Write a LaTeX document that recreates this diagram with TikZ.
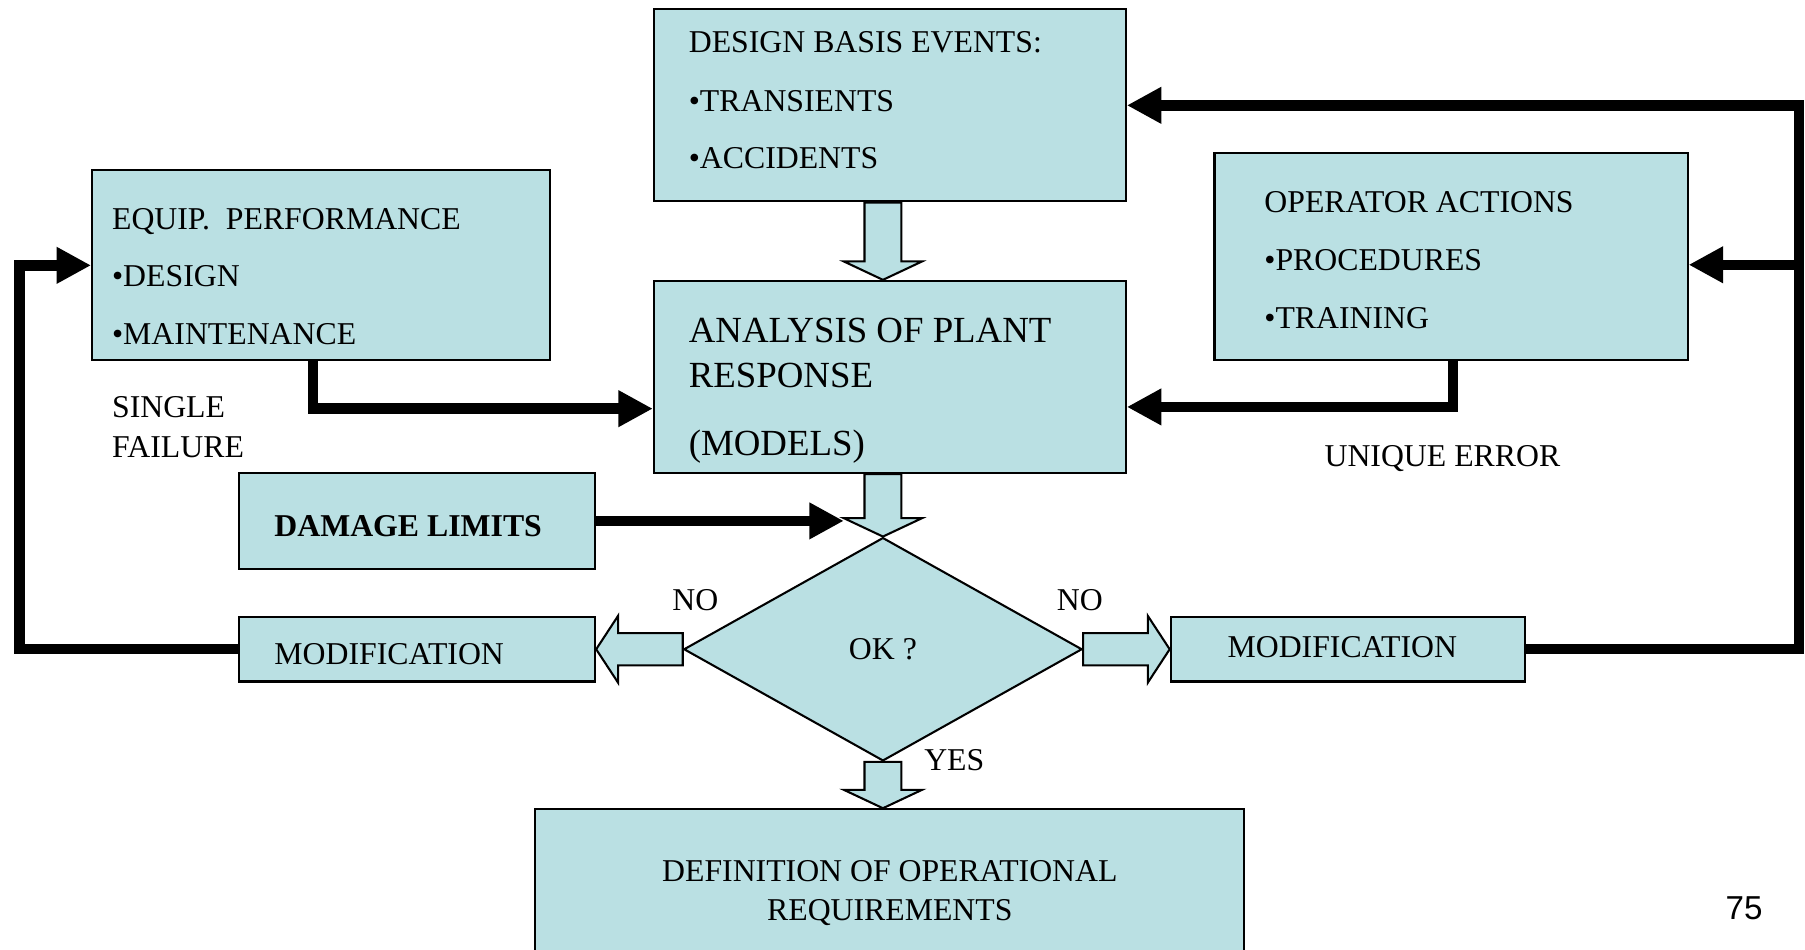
\documentclass[tikz,border=0pt]{standalone}
\usepackage{fontspec}
\setmainfont{Liberation Serif}
\newfontfamily\numfont{Liberation Sans}
\usetikzlibrary{shapes.geometric,arrows.meta,calc}
\definecolor{boxfill}{RGB}{186,224,227}
\newcommand\vblock[2]{%
  \draw[barrow] let \p1=(#1), \p2=(#2) in
  (\x2-8pt,\y1) -- (\x2-8pt,\y2+8pt) -- (\x2-17pt,\y2+8pt) -- (\x2,\y2)
  -- (\x2+17pt,\y2+8pt) -- (\x2+8pt,\y2+8pt) -- (\x2+8pt,\y1) -- cycle;}
\newcommand\hblock[2]{%
  \draw[barrow] let \p1=(#1), \p2=(#2), \n1={ifthenelse(\x2>\x1,1,-1)} in
  (\x1,\y1+7pt) -- (\x2-\n1*9.5pt,\y1+7pt) -- (\x2-\n1*9.5pt,\y1+14.5pt) -- (\x2,\y2)
  -- (\x2-\n1*9.5pt,\y1-14.5pt) -- (\x2-\n1*9.5pt,\y1-7pt) -- (\x1,\y1-7pt) -- cycle;}
\begin{document}
\begin{tikzpicture}[x=0.5pt,y=-0.5pt,
  box/.style={draw=black, line width=0.9pt, fill=boxfill, inner sep=0pt},
  txt/.style={inner sep=0pt, font=\fontsize{13.8}{16}\selectfont},
  bigtxt/.style={inner sep=0pt, font=\fontsize{16}{19}\selectfont},
  flow/.style={line width=4.5pt, -{Triangle[length=15pt,width=15pt]}, line join=miter},
  barrow/.style={draw=black, line width=0.9pt, fill=boxfill, line join=miter}]
\useasboundingbox (0,0) rectangle (1568,825);
\clip (0,0) rectangle (1568,825);
\fill[white] (0,0) rectangle (1568,825);

% boxes
\node[box, minimum width=205pt, minimum height=83.5pt] (dbe) at (773,91.5) {};
\node[box, minimum width=205pt, minimum height=83.5pt] (ana) at (773,327.5) {};
\node[box, minimum width=199pt, minimum height=82.5pt] (equip) at (279,230.5) {};
\node[box, minimum width=205.5pt, minimum height=90pt] (oper) at (1260.5,223) {};
\node[box, minimum width=154.5pt, minimum height=41.5pt] (dmg) at (362.5,452.5) {};
\node[box, minimum width=154.5pt, minimum height=28pt] (modL) at (362.5,564) {};
\node[box, minimum width=154pt, minimum height=28pt] (modR) at (1171,564) {};
\node[box, diamond, minimum width=173pt, minimum height=97pt,
      font=\fontsize{13.8}{16}\selectfont] (dia) at (767,564) {OK ?};
\node[box, minimum width=308pt, minimum height=73.5pt] (defn) at (773,776.5) {};

% texts
\node[txt, anchor=base west] (dbe1) at (598,46) {DESIGN BASIS EVENTS:};
\node[txt, anchor=base west] (dbe2) at (598,97) {•TRANSIENTS};
\node[txt, anchor=base west] (dbe3) at (598,146) {•ACCIDENTS};
\node[txt, anchor=base west] (eq1) at (97,199) {EQUIP.\ \ PERFORMANCE};
\node[txt, anchor=base west] (eq2) at (97,249) {•DESIGN};
\node[txt, anchor=base west] (eq3) at (97,299) {•MAINTENANCE};
\node[txt, anchor=base west] (op1) at (1098,185) {OPERATOR ACTIONS};
\node[txt, anchor=base west] (op2) at (1098,235) {•PROCEDURES};
\node[txt, anchor=base west] (op3) at (1098,285) {•TRAINING};
\node[bigtxt, anchor=base west] (an1) at (598,297.5) {ANALYSIS OF PLANT};
\node[bigtxt, anchor=base west] (an2) at (598,336.5) {RESPONSE};
\node[bigtxt, anchor=base west] (an3) at (598,395.5) {(MODELS)};
\node[txt, anchor=base west] (sf1) at (97,363) {SINGLE};
\node[txt, anchor=base west] (sf2) at (97,397) {FAILURE};
\node[txt, anchor=base] (ue) at (1253,405) {UNIQUE ERROR};
\node[txt, anchor=base west, font=\fontsize{13.8}{16}\selectfont\bfseries] (dl) at (238,466) {DAMAGE LIMITS};
\node[txt, anchor=base west] (ml) at (238,577) {MODIFICATION};
\node[txt, anchor=base west] (mr) at (1066,571) {MODIFICATION};
\node[txt, anchor=base] (noL) at (604,530) {NO};
\node[txt, anchor=base] (noR) at (938,530) {NO};
\node[txt, anchor=base] (yes) at (829,669) {YES};
\node[txt, anchor=base] (df1) at (773,766) {DEFINITION OF OPERATIONAL};
\node[txt, anchor=base] (df2) at (773,800) {REQUIREMENTS};
\node[inner sep=0pt, anchor=base, font=\numfont\fontsize{14.4}{17}\selectfont] (pg) at (1515,799) {75};

% block arrows
\vblock{dbe.south -| dia.north}{ana.north -| dia.north}
\vblock{ana.south -| dia.north}{dia.north}
\vblock{dia.south}{defn.north -| dia.south}
\hblock{dia.west}{modL.east}
\hblock{dia.east}{modR.west}

% thick connectors
\coordinate (dhead) at ($(dia.north)+(-34,-16)$);
\coordinate (xl) at (17,0);
\coordinate (xr) at (1563,0);
\draw[flow] ($(equip.south west)+(193,0)$) |- ($(ana.west)+(0,27.5)$);
\draw[flow] ($(oper.south)+(1.5,0)$) |- ($(ana.east)+(0,26)$);
\draw[flow] (dmg.east) -- (dmg.east -| dhead);
\draw[flow] (modL.west) -- (modL.west -| xl) |- (equip.west);
\draw[flow] (modR.east) -- (modR.east -| xr) |- (dbe.east);
\draw[flow] ($(xr |- oper.east)+(0,7)$) -- ($(oper.east)+(0,7)$);
\end{tikzpicture}
\end{document}
